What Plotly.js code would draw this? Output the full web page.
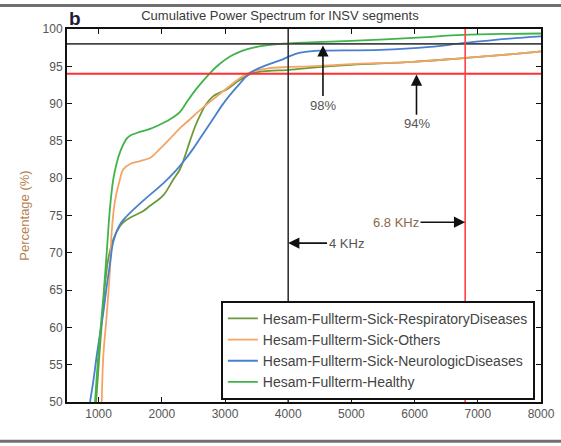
<!DOCTYPE html>
<html>
<head>
<meta charset="utf-8">
<script src="https://cdn.plot.ly/plotly-3.0.1.min.js"></script>
<style>
  html, body { margin: 0; padding: 0; background: #ffffff; }
  #chart { width: 561px; height: 446px; }
</style>
</head>
<body>
<div id="chart"></div>
<script>
// ---- Data ----
const seriesNames = [
  "Hesam-Fullterm-Sick-RespiratoryDiseases",
  "Hesam-Fullterm-Sick-Others",
  "Hesam-Fullterm-Sick-NeurologicDiseases",
  "Hesam-Fullterm-Healthy"
];

const respX = [960, 1010, 1060, 1110, 1154, 1233, 1339, 1391, 1497, 1707, 1813, 2023, 2180, 2288, 2360, 2446, 2530, 2604, 2700, 2815, 3027, 3238, 3443, 3700, 3976, 4345, 5000, 5975, 6766, 7500, 8000];
const respY = [50, 56, 61.6, 66.5, 69.2, 71.8, 73.6, 74.1, 74.7, 75.6, 76.3, 77.7, 79.8, 81.2, 82.8, 85.0, 87.0, 88.4, 89.9, 91.0, 91.9, 93.2, 94.1, 94.4, 94.5, 94.8, 95.2, 95.6, 96.1, 96.6, 97.0];

const othX = [1049, 1075, 1128, 1180, 1207, 1260, 1339, 1391, 1497, 1655, 1813, 1919, 2130, 2300, 2446, 2600, 2815, 3079, 3250, 3396, 3660, 3976, 4345, 5000, 5975, 6766, 7500, 8000];
const othY = [50, 56.2, 61.6, 67.8, 72.8, 77.0, 79.9, 81.2, 81.9, 82.3, 82.7, 83.5, 85.3, 86.8, 87.9, 89.1, 90.6, 92.4, 93.5, 94.2, 94.7, 94.9, 95.0, 95.3, 95.6, 96.1, 96.6, 97.0];

const neuroX = [864, 920, 970, 1020, 1075, 1128, 1180, 1233, 1339, 1444, 1707, 2023, 2200, 2340, 2500, 2657, 2815, 2973, 3185, 3396, 3607, 3870, 4134, 4345, 4551, 5453, 6244, 6766, 7500, 8000];
const neuroY = [50, 53, 56.2, 59, 62, 65.5, 68.5, 71.5, 73.8, 74.9, 77.0, 79.3, 80.8, 82.2, 84.0, 86.0, 88.0, 90.0, 92.2, 94.1, 95.0, 95.8, 96.7, 97.0, 97.1, 97.2, 97.6, 98.1, 98.7, 99.0];

const healthX = [943, 995, 1049, 1075, 1128, 1180, 1233, 1286, 1339, 1444, 1497, 1650, 1813, 1950, 2130, 2288, 2394, 2550, 2763, 2900, 3079, 3250, 3448, 3650, 3870, 4345, 5000, 5975, 6766, 7500, 8000];
const healthY = [50, 56.2, 61.6, 64, 70, 76, 79.9, 82, 83.5, 85.3, 85.7, 86.2, 86.6, 87.1, 87.9, 88.9, 90.2, 92.0, 94.1, 95.2, 96.3, 97.0, 97.5, 97.8, 98.0, 98.2, 98.4, 98.8, 99.2, 99.35, 99.4];

const xTicks = [1000, 2000, 3000, 4000, 5000, 6000, 7000, 8000];
const yTicks = [50, 55, 60, 65, 70, 75, 80, 85, 90, 95, 100];

// reference markers
const thresholdHigh = 98;
const thresholdLow = 94;
const freqHigh = 6800;
const freqLow = 4000;

const colors = ["#6b9a3a", "#f4a566", "#4a7fd0", "#3fb44a"];

const seriesX = [respX, othX, neuroX, healthX];
const seriesY = [respY, othY, neuroY, healthY];

const traces = seriesNames.map((name, i) => ({
  type: "scatter",
  mode: "lines",
  name: name,
  x: seriesX[i],
  y: seriesY[i],
  line: { color: colors[i], width: 1.8, shape: "spline", smoothing: 1.0 },
  hoverinfo: "skip"
}));

const font = "Liberation Sans, Arial, sans-serif";

const layout = {
  width: 561,
  height: 446,
  margin: { l: 67, r: 20, t: 29, b: 44 },
  paper_bgcolor: "#ffffff",
  plot_bgcolor: "#ffffff",
  font: { family: font, color: "#555555", size: 12 },
  title: {
    text: "Cumulative Power Spectrum for INSV segments",
    font: { family: font, size: 13, color: "#3a3a3a" },
    x: 0.499, xanchor: "center", xref: "container",
    y: 0.965, yanchor: "middle", yref: "container"
  },
  showlegend: true,
  legend: {
    x: 0.987, xanchor: "right",
    y: 0.006, yanchor: "bottom",
    bgcolor: "#ffffff",
    bordercolor: "#111111",
    borderwidth: 2,
    font: { family: font, size: 14, color: "#444444" },
    tracegroupgap: 0
  },
  xaxis: {
    range: [500, 8000],
    tickvals: xTicks,
    ticktext: xTicks.map(String),
    ticks: "inside", ticklen: 5, tickwidth: 1, tickcolor: "#111111",
    showline: true, linecolor: "#111111", linewidth: 2, mirror: "ticks",
    showgrid: false, zeroline: false,
    tickfont: { family: font, size: 12, color: "#555555" }
  },
  yaxis: {
    range: [50, 100],
    tickvals: yTicks,
    ticktext: yTicks.map(String),
    ticks: "inside", ticklen: 5, tickwidth: 1, tickcolor: "#111111",
    showline: true, linecolor: "#111111", linewidth: 2, mirror: "ticks",
    showgrid: false, zeroline: false,
    tickfont: { family: font, size: 12, color: "#555555" },
    title: { text: "Percentage (%)", font: { family: font, size: 13, color: "#b5824f" }, standoff: 10 }
  },
  shapes: [
    { type: "line", xref: "x", yref: "y", x0: 500, x1: 8000, y0: thresholdHigh, y1: thresholdHigh,
      line: { color: "#444444", width: 1.8 }, layer: "above" },
    { type: "line", xref: "x", yref: "y", x0: 500, x1: 8000, y0: thresholdLow, y1: thresholdLow,
      line: { color: "#ff3030", width: 1.8 }, layer: "above" },
    { type: "line", xref: "x", yref: "y", x0: freqLow, x1: freqLow, y0: 50, y1: 100,
      line: { color: "#333333", width: 1.6 }, layer: "above" },
    { type: "line", xref: "x", yref: "y", x0: freqHigh, x1: freqHigh, y0: 50, y1: 100,
      line: { color: "#ff4040", width: 1.6 }, layer: "above" },
    // outer frame lines of the figure
    { type: "line", xref: "paper", yref: "paper", x0: -0.2, x1: 1.2, y0: 1.063, y1: 1.063,
      line: { color: "#707070", width: 3 } },
    { type: "line", xref: "paper", yref: "paper", x0: -0.2, x1: 1.2, y0: -0.105, y1: -0.105,
      line: { color: "#707070", width: 3 } }
  ],
  annotations: [
    { text: "<b>b</b>", xref: "paper", yref: "paper", x: 0.017, y: 1.027,
      xanchor: "center", yanchor: "middle", showarrow: false,
      font: { family: font, size: 19, color: "#1c1c3c" } },
    { text: "98%", xref: "x", yref: "y", x: 4550, y: thresholdHigh - 0.2,
      axref: "x", ayref: "y", ax: 4550, ay: 89.8,
      showarrow: true, arrowhead: 2, arrowsize: 1.4, arrowwidth: 1.6, arrowcolor: "#111111",
      font: { family: font, size: 13, color: "#555555" } },
    { text: "94%", xref: "x", yref: "y", x: 6030, y: thresholdLow - 0.1,
      axref: "x", ayref: "y", ax: 6030, ay: 87.3,
      showarrow: true, arrowhead: 2, arrowsize: 1.4, arrowwidth: 1.6, arrowcolor: "#111111",
      font: { family: font, size: 13, color: "#555555" } },
    { text: "4 KHz", xref: "x", yref: "y", x: freqLow, y: 71.3,
      axref: "x", ayref: "y", ax: 4915, ay: 71.3,
      showarrow: true, arrowhead: 2, arrowsize: 1.4, arrowwidth: 1.6, arrowcolor: "#111111",
      font: { family: font, size: 13, color: "#555555" } },
    { text: "6.8 KHz", xref: "x", yref: "y", x: freqHigh, y: 74.1,
      axref: "x", ayref: "y", ax: 5706, ay: 74.1,
      showarrow: true, arrowhead: 2, arrowsize: 1.4, arrowwidth: 1.6, arrowcolor: "#111111",
      font: { family: font, size: 13, color: "#8a6a4a" } }
  ]
};

Plotly.newPlot("chart", traces, layout, { displayModeBar: false, staticPlot: true });
</script>
</body>
</html>
